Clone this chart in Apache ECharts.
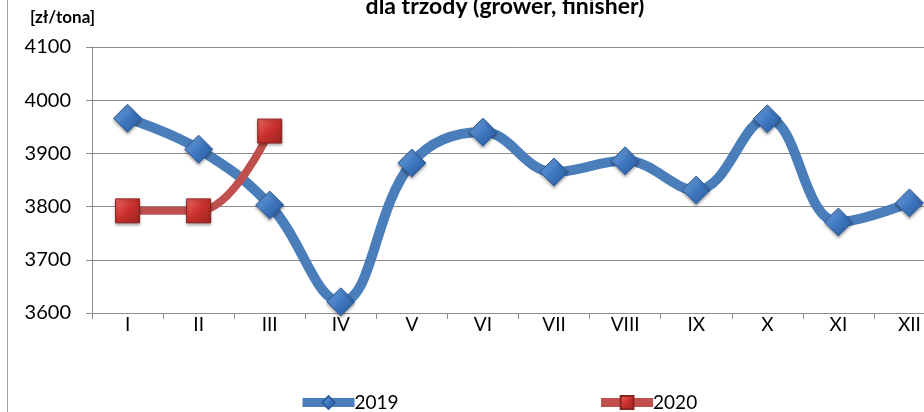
<!DOCTYPE html>
<html><head><meta charset="utf-8">
<script src="https://cdn.jsdelivr.net/npm/echarts@6/dist/echarts.min.js"></script>
<style>html,body{margin:0;padding:0;background:#fff;overflow:hidden;width:924px;height:412px}#c{width:945px;height:412px}</style>
</head><body><div id="c"></div>
<script>
const categories = ['I','II','III','IV','V','VI','VII','VIII','IX','X','XI','XII'];
const values2019 = [3966, 3908, 3803, 3621, 3882, 3940, 3865, 3886, 3831, 3965, 3771, 3807];
const values2020 = [3792, 3792, 3942];
const seriesNames = ['2019', '2020'];
const yTicks = {min: 3600, max: 4100, interval: 100};

const chart = echarts.init(document.getElementById('c'));
const blueGrad = new echarts.graphic.LinearGradient(0,0,1,1,[{offset:0,color:'#7fb0ea'},{offset:0.5,color:'#3f78c0'},{offset:1,color:'#28579a'}]);
const redGrad = new echarts.graphic.LinearGradient(0,0,1,1,[{offset:0,color:'#f06a66'},{offset:0.5,color:'#c8302c'},{offset:1,color:'#9a2420'}]);
chart.setOption({
  animation: false,
  title: {
    text: 'dla trzody (grower, finisher)',
    left: 500, textAlign: 'center', top: -10,
    textStyle: {fontFamily: 'Lato', fontWeight: 'bold', fontSize: 23, color: '#000'}
  },
  graphic: [
    {type: 'line', shape: {x1: 7.5, y1: 0, x2: 7.5, y2: 412}, style: {stroke: '#a0a0a0', lineWidth: 1}},
    {type: 'text', left: 30, top: 9, style: {text: '[zł/tona]', font: 'bold 17px Lato', fill: '#000'}}
  ],
  legend: {
    left: 293, top: 388,
    itemWidth: 52, itemHeight: 16, itemGap: 198,
    lineStyle: {width: 9},
    textStyle: {fontFamily: 'Lato', fontSize: 19, color: '#000', padding: [0,0,0,-5]},
    data: seriesNames
  },
  grid: {left: 92, right: 0, top: 47, bottom: 99, containLabel: false},
  xAxis: {
    type: 'category', data: categories, boundaryGap: true,
    axisLine: {lineStyle: {color: '#8c8c8c', width: 1}},
    axisTick: {show: true, length: 6, inside: false, alignWithLabel: false, lineStyle: {color: '#8c8c8c'}},
    axisLabel: {fontFamily: 'Lato', fontSize: 19, color: '#000', margin: 2}
  },
  yAxis: {
    type: 'value', min: yTicks.min, max: yTicks.max, interval: yTicks.interval,
    axisLine: {show: true, lineStyle: {color: '#8c8c8c'}},
    axisTick: {show: true, length: 6, lineStyle: {color: '#8c8c8c'}},
    axisLabel: {fontFamily: 'Lato', fontSize: 20, color: '#000', margin: 21, formatter: v => String(v)},
    splitLine: {lineStyle: {color: '#8c8c8c', width: 1}}
  },
  series: [
    {
      name: seriesNames[0], type: 'line', data: values2019, smooth: 0.4,
      symbol: 'diamond', symbolSize: 28,
      lineStyle: {color: '#4a7ebb', width: 10},
      itemStyle: {color: blueGrad, borderColor: '#2d5b9a', borderWidth: 1, shadowColor: 'rgba(0,0,0,0.35)', shadowBlur: 3, shadowOffsetY: 2},
      z: 2
    },
    {
      name: seriesNames[1], type: 'line', data: values2020, smooth: 0.4,
      symbol: 'rect', symbolSize: 24,
      lineStyle: {color: '#c0504d', width: 8},
      itemStyle: {color: redGrad, borderColor: '#8c2220', borderWidth: 1, shadowColor: 'rgba(0,0,0,0.35)', shadowBlur: 3, shadowOffsetY: 2},
      z: 3
    }
  ]
});
</script></body></html>
